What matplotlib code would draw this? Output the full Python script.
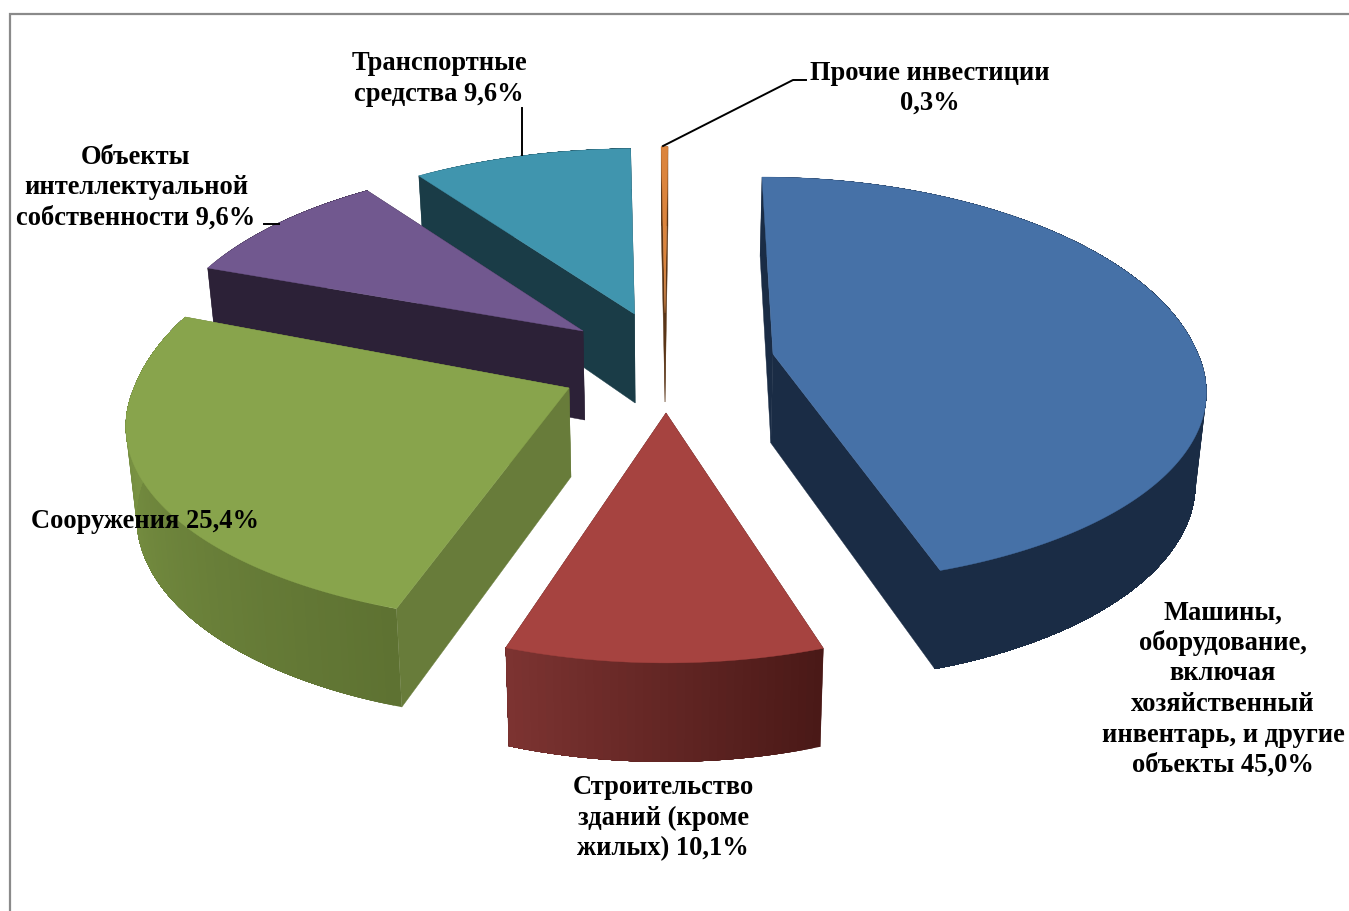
import numpy as np
import matplotlib
matplotlib.use("Agg")
import matplotlib.pyplot as plt
from matplotlib.colors import to_rgb

plt.rcParams['font.family'] = ['Liberation Serif', 'DejaVu Serif']

# shares in percent, clockwise from 12 o'clock
shares = [45.0, 10.1, 25.4, 9.6, 9.6, 0.3]
label_lines = [
    ["Машины,", "оборудование,", "включая", "хозяйственный", "инвентарь, и другие", "объекты"],
    ["Строительство", "зданий (кроме", "жилых)"],
    ["Сооружения"],
    ["Объекты", "интеллектуальной", "собственности"],
    ["Транспортные", "средства"],
    ["Прочие инвестиции"],
]
top_colors = ['#4671A7', '#A64340', '#88A44C', '#71588F', '#4095AE', '#DB843D']
side_colors = ['#1A2C45', '#4A1917', '#687C3A', '#2C2137', '#1A3C47', '#5A3517']
rim_start = ['#1A2C45', '#4A1917', '#5E7232', '#2C2137', '#1A3C47', '#5A3517']
rim_end = ['#1A2C45', '#7C3331', '#839E49', '#2C2137', '#1A3C47', '#5A3517']

# where the tip of each pulled out slice ends up, in pixels
tip_x = [773, 666, 569, 583, 634.5, 665]
tip_y = [354, 413, 388, 331, 314, 313]
# every slice sits at another spot under the camera, so it looks a bit different
x_scale = [0.977, 0.98, 1.0, 0.97, 0.98, 0.98]
near_scale = [0.92, 1.0, 0.94, 1.0, 1.0, 1.0]
far_scale = [1.0, 1.0, 1.07, 0.95, 0.935, 0.94]
shear = [11, 0, -9.5, 0, -3, -3]

# label centres: x, y of the first line
label_x = [1223, 663, 145, 136, 439, 930]
label_y = [613, 788, 521, 157, 64, 73]

CAM = 5.85
XF = 2545.0
YF = 1212.0
AXIS_X = 666.0


def project(t, i):
    # t in radians clockwise from the top; perspective on a tilted disc
    X = np.sin(t)
    Y = -np.cos(t)
    sx = XF * X / (CAM - Y) * x_scale[i] + shear[i] * Y
    sy = YF * Y / (CAM - Y)
    sy = np.where(Y > 0, sy * near_scale[i], sy * far_scale[i])
    return tip_x[i] + sx, tip_y[i] + sy


def drop(x, y, Y):
    # lower face: a bit further from the camera, so narrower and shifted down
    return AXIS_X + 0.98 * (x - AXIS_X), y + 89 + 10 * Y


def mix(c1, c2, f):
    a = np.array(to_rgb(c1))
    b = np.array(to_rgb(c2))
    return tuple(a + (b - a) * f)


fig = plt.figure(figsize=(13.49, 9.11), dpi=100)
ax = fig.add_axes([0, 0, 1, 1])
ax.set_xlim(0, 1349)
ax.set_ylim(911, 0)
ax.axis('off')

# chart frame, only top and left fall inside the picture
ax.plot([9.5, 9.5, 1349], [911, 14, 14], color='#8A8A8A', lw=1.6, solid_joinstyle='miter', zorder=0)

edges = np.concatenate([[0], np.cumsum(shares)]) / sum(shares) * 2 * np.pi

# far slices first, so the near ones cover them
order = [5, 4, 3, 2, 0, 1]
z = 1
for i in order:
    t = np.linspace(edges[i], edges[i + 1], max(int(shares[i] * 4), 4))
    Y = -np.cos(t)
    x, y = project(t, i)
    xb, yb = drop(x, y, Y)
    txb, tyb = drop(np.array(tip_x[i], dtype=float), np.array(tip_y[i], dtype=float), 0.0)

    # two flat cut faces
    for k in [0, -1]:
        ax.fill([tip_x[i], x[k], xb[k], txb], [tip_y[i], y[k], yb[k], tyb],
                color=side_colors[i], lw=0.3, zorder=z)
    # outer rim; each strip runs under the next one so no seams show
    n = len(t)
    for k in range(n - 1):
        c = mix(rim_start[i], rim_end[i], k / max(n - 2, 1))
        ax.fill(np.r_[x[k:], xb[k:][::-1]], np.r_[y[k:], yb[k:][::-1]],
                color=c, lw=0, zorder=z)
    # top
    ax.fill(np.r_[tip_x[i], x], np.r_[tip_y[i], y], color=top_colors[i], lw=0.3, zorder=z + 1)
    z += 2

# leader lines
ax.plot([663, 793, 806], [146, 80, 80], color='black', lw=1.4, zorder=z)
ax.plot([522, 522], [108, 155], color='black', lw=1.4, zorder=z)
ax.plot([264, 279], [224, 224], color='black', lw=1.4, zorder=z)

LINE = 30.5
for i, lines in enumerate(label_lines):
    value = f"{shares[i]:.1f}".replace('.', ',') + "%"
    if i == 5:
        texts = lines + [value]
    else:
        texts = lines[:-1] + [lines[-1] + " " + value]
    for k, s in enumerate(texts):
        ax.text(label_x[i], label_y[i] + k * LINE, s, ha='center', va='center',
                fontsize=19.1, fontweight='bold', color='black', zorder=z + 1)

fig.savefig("out.png", dpi=100)
